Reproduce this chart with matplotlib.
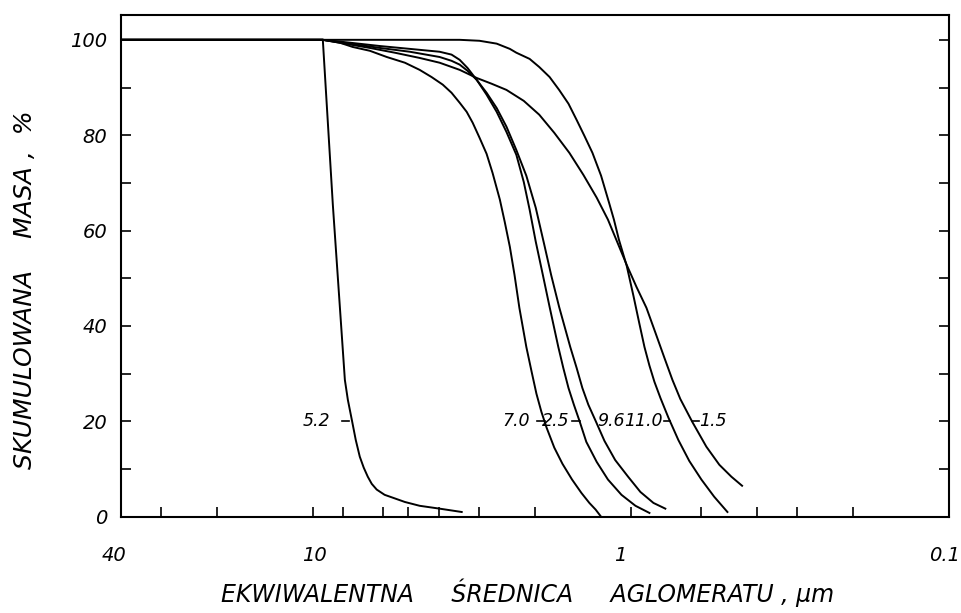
import numpy as np
import matplotlib.pyplot as plt
from matplotlib.ticker import FixedLocator, NullFormatter
from matplotlib.transforms import ScaledTranslation

plt.rcParams['font.family'] = ['DejaVu Sans']
plt.rcParams['font.style'] = 'italic'

# cumulative mass (%) vs equivalent agglomerate diameter (um), one curve per sample
d_52 = [40, 9.29, 8.64, 7.92, 7.75, 7.53, 7.32, 7.11, 6.91, 6.71, 6.52, 6.29, 5.94, 5.60, 5.13, 4.61, 3.99, 3.40]
m_52 = [100, 100, 65.4, 28.7, 24.5, 20.3, 16.1, 12.6, 10.3, 8.4, 6.9, 5.7, 4.6, 4.0, 3.1, 2.3, 1.7, 1.0]

d_70 = [40, 9.29, 8.22, 7.48, 6.61, 5.85, 5.13, 4.61, 4.23, 3.90, 3.66, 3.45, 3.28, 3.14, 2.99, 2.84,
        2.72, 2.58, 2.49, 2.40, 2.32, 2.24, 2.13, 2.05, 1.98, 1.91, 1.84, 1.74, 1.64, 1.53, 1.43, 1.35, 1.29, 1.24]
m_70 = [100, 100, 99.4, 98.5, 97.7, 96.4, 95.2, 93.7, 92.2, 90.6, 88.9, 86.8, 84.9, 82.6, 79.5, 76.1,
        72.1, 66.5, 61.8, 56.6, 50.7, 43.8, 35.6, 30.4, 25.8, 22.0, 18.7, 14.5, 11.1, 7.8, 5.0, 2.9, 1.5, 0]

d_25 = [40, 9.29, 7.64, 6.15, 4.95, 3.99, 3.66, 3.45, 3.26, 3.05, 2.84, 2.64, 2.46, 2.29, 2.17, 2.08,
        1.99, 1.89, 1.80, 1.69, 1.63, 1.57, 1.51, 1.45, 1.38, 1.28, 1.18, 1.07, 0.967, 0.874]
m_25 = [100, 100, 99.4, 98.7, 98.1, 97.5, 96.9, 95.8, 94.1, 91.6, 88.5, 84.9, 80.7, 75.9, 70.2, 64.4,
        57.7, 50.7, 44.0, 35.6, 31.2, 27.0, 23.5, 20.1, 15.7, 11.5, 7.8, 4.6, 2.3, 0.8]

d_96 = [40, 9.29, 7.64, 6.15, 4.95, 3.99, 3.66, 3.45, 3.26, 3.05, 2.84, 2.64, 2.46, 2.29, 2.13, 1.99,
        1.87, 1.78, 1.68, 1.55, 1.48, 1.42, 1.36, 1.29, 1.21, 1.12, 1.02, 0.933, 0.849, 0.779]
m_96 = [100, 100, 99.2, 98.3, 97.5, 96.4, 95.6, 94.8, 93.5, 91.6, 88.9, 85.7, 81.8, 76.9, 71.5, 64.8,
        57.0, 50.7, 44.0, 35.6, 31.2, 27.0, 23.5, 20.1, 15.9, 11.9, 8.4, 5.2, 2.9, 1.7]

d_110 = [40, 9.29, 5.32, 3.45, 2.99, 2.64, 2.40, 2.29, 2.08, 1.94, 1.80, 1.68, 1.57, 1.48, 1.40, 1.32,
         1.24, 1.17, 1.13, 1.09, 1.03, 0.981, 0.940, 0.906, 0.874, 0.843, 0.807, 0.762, 0.709, 0.655,
         0.600, 0.547, 0.497]
m_110 = [100, 100, 100, 100, 99.8, 99.2, 98.1, 97.3, 96.0, 94.3, 92.2, 89.5, 86.6, 83.2, 79.9, 76.3,
         71.5, 65.8, 62.3, 58.1, 52.6, 46.3, 40.5, 35.6, 31.7, 28.3, 24.9, 20.8, 16.1, 11.7,
         7.8, 4.2, 1.0]

d_15 = [40, 9.29, 7.92, 6.61, 5.52, 4.61, 3.99, 3.45, 3.05, 2.74, 2.46, 2.17, 1.94, 1.74, 1.56, 1.41,
        1.28, 1.18, 1.10, 1.03, 0.960, 0.893, 0.837, 0.784, 0.740, 0.699, 0.641, 0.579, 0.527, 0.483, 0.447]
m_15 = [100, 100, 99.2, 98.3, 97.3, 96.2, 95.2, 93.7, 92.0, 90.8, 89.5, 87.2, 84.3, 80.5, 76.3, 71.7,
        66.9, 62.3, 57.4, 52.8, 48.2, 43.8, 38.6, 33.3, 28.7, 24.7, 19.9, 14.7, 10.9, 8.4, 6.5]

# name, diameters, mass, text alignment, text offset (px), tick span (px)
curves = [('5.2', d_52, m_52, 'right', -22, (-10, -3)),
          ('7.0', d_70, m_70, 'right', -15, (-8, 0)),
          ('2.5', d_25, m_25, 'right', -10, (-8, 0)),
          ('9.6', d_96, m_96, 'left', 1, None),
          ('11.0', d_110, m_110, 'right', -7, (-6, 0)),
          ('1.5', d_15, m_15, 'left', 7, (0, 7))]

label_level = 20

fig = plt.figure(figsize=(9.61, 6.13), dpi=100)
ax = fig.add_axes([0.126, 0.157, 0.8615, 0.8185])
ax.set_xscale('log')
ax.set_xlim(40, 0.1)
ax.set_ylim(0, 105.2)


def shifted_x(x, y, dpx):
    # data x of a point dpx pixels right of (x, y)
    px, py = ax.transData.transform((x, y))
    return ax.transData.inverted().transform((px + dpx, py))[0]


for name, d, m, ha, dx, tick in curves:
    ax.plot(d, m, color='black', lw=1.4)
    # diameter where the curve passes the label level
    x_lab = np.exp(np.interp(label_level, m[::-1], np.log(d[::-1])))
    if tick is not None:
        ax.plot([shifted_x(x_lab, label_level, t) for t in tick],
                [label_level, label_level], color='black', lw=1.2)
    ax.annotate(name, xy=(x_lab, label_level), xytext=(dx * 0.72, 0),
                textcoords='offset points', fontsize=12.5,
                ha=ha, va='center')

ax.xaxis.set_major_locator(FixedLocator([40, 10, 1, 0.1]))
ax.set_xticklabels(['40', '10', '1', '0.1'])
ax.xaxis.set_minor_locator(FixedLocator([30, 20, 8, 6, 5, 4, 3, 2, 0.6, 0.4, 0.3, 0.2]))
ax.xaxis.set_minor_formatter(NullFormatter())

ax.set_yticks(range(0, 101, 20))
ax.yaxis.set_minor_locator(FixedLocator(range(10, 100, 20)))

ax.tick_params(which='both', direction='in', length=7, width=1.2,
               top=False, right=True, labelsize=14)
ax.tick_params(axis='x', which='both', pad=21)
ax.tick_params(axis='y', which='both', pad=10)

for lab, shift in zip(ax.get_xticklabels(), [-7, 2, -11, -4]):
    lab.set_transform(lab.get_transform() + ScaledTranslation(shift / 100, 0, fig.dpi_scale_trans))

for s in ax.spines.values():
    s.set_linewidth(1.5)

ax.set_xlabel('EKWIWALENTNA     ŚREDNICA     AGLOMERATU , µm', fontsize=17)
ax.set_ylabel('SKUMULOWANA    MASA ,  %', fontsize=18)
ax.xaxis.set_label_coords(0.4915, -0.124)
ax.yaxis.set_label_coords(-0.102, 0.452)

fig.savefig('out.png', dpi=100)
